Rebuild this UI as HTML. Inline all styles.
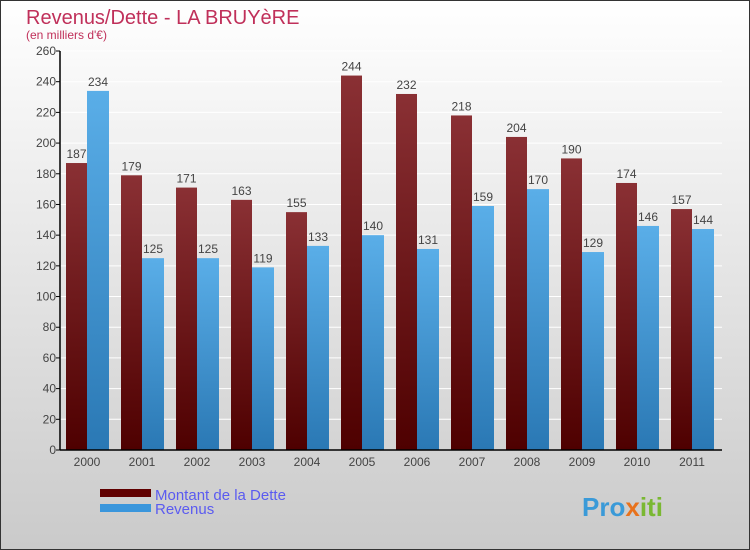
<!DOCTYPE html>
<html><head><meta charset="utf-8"><style>
body{margin:0}
#c{position:relative;width:750px;height:550px;overflow:hidden}
text{font-family:"Liberation Sans",sans-serif}
</style></head><body>
<div id="c">
<svg id="s" width="750" height="550" xmlns="http://www.w3.org/2000/svg">
<defs>
<linearGradient id="bg" x1="0" y1="0" x2="0" y2="1"><stop offset="0" stop-color="#ffffff"/><stop offset="1" stop-color="#cacaca"/></linearGradient>
<linearGradient id="gr" x1="0" y1="0" x2="0" y2="1"><stop offset="0" stop-color="#8a3034"/><stop offset="1" stop-color="#4e0000"/></linearGradient>
<linearGradient id="gb" x1="0" y1="0" x2="0" y2="1"><stop offset="0" stop-color="#5aaee8"/><stop offset="1" stop-color="#2a78b4"/></linearGradient>
</defs>
<rect x="0.5" y="0.5" width="749" height="549" fill="url(#bg)" stroke="#333"/>
<text x="26" y="24" font-size="20" fill="#c0305a">Revenus/Dette - LA BRUYèRE</text>
<text x="26" y="39" font-size="12" fill="#c0305a">(en milliers d'€)</text>
<g id="grid"></g><g id="bars"></g><g id="axes"></g>
<rect x="100" y="489" width="51" height="8" fill="#600000"/>
<rect x="100" y="504" width="51" height="8" fill="#3a96dc"/>
<text x="155" y="500" font-size="15" fill="#5b5bf0">Montant de la Dette</text>
<text x="155" y="514" font-size="15" fill="#5b5bf0">Revenus</text>
<text x="582" y="516" font-size="26" font-weight="bold" fill="#3a9ad8">Pro<tspan fill="#e8721c">x</tspan><tspan fill="#7ab832">iti</tspan></text>
</svg></div>
<script>
const years=["2000","2001","2002","2003","2004","2005","2006","2007","2008","2009","2010","2011"];
const dette=[187,179,171,163,155,244,232,218,204,190,174,157];
const revenus=[234,125,125,119,133,140,131,159,170,129,146,144];
const yTicks=[0,20,40,60,80,100,120,140,160,180,200,220,240,260];
const NS="http://www.w3.org/2000/svg";
const x0=60,x1=722,yB=450,yT=51,yMax=260;
const y=v=>yB-(v/yMax)*(yB-yT);
const gx=i=>87+i*55;
function mk(t,a,p){const e=document.createElementNS(NS,t);for(const k in a)e.setAttribute(k,a[k]);document.getElementById(p).appendChild(e);return e;}
yTicks.forEach(v=>{
 const l=mk('line',{x1:x0,x2:x1,y1:y(v),y2:y(v),stroke:'#fff','stroke-width':1},'grid');
 
 
 const tk=mk('line',{x1:x0-4,x2:x0,y1:y(v),y2:y(v),stroke:'#000'},'axes');
 
 
 const t=mk('text',{x:x0-4,y:y(v)+4,'font-size':12,fill:'#444','text-anchor':'end'},'axes');t.textContent=v;
 
 
});
years.forEach((yr,i)=>{
 const c=gx(i);
 const r=mk('rect',{x:c-21,y:y(dette[i]),width:21,height:yB-y(dette[i]),fill:'url(#gr)'},'bars');
 
 
 const b=mk('rect',{x:c,y:y(revenus[i]),width:22,height:yB-y(revenus[i]),fill:'url(#gb)'},'bars');
 
 
 const t1=mk('text',{x:c-10.5,y:y(dette[i])-5,'font-size':12,fill:'#444','text-anchor':'middle'},'bars');t1.textContent=dette[i];
 
 
 const t2=mk('text',{x:c+11,y:y(revenus[i])-5,'font-size':12,fill:'#444','text-anchor':'middle'},'bars');t2.textContent=revenus[i];
 
 
 const xl=mk('text',{x:c,y:466,'font-size':12,fill:'#444','text-anchor':'middle'},'axes');xl.textContent=yr;
 
 
});
const ya=mk('line',{x1:x0,x2:x0,y1:yT,y2:yB,stroke:'#000','stroke-width':1.5},'axes');


const xa=mk('line',{x1:x0,x2:x1,y1:yB,y2:yB,stroke:'#000','stroke-width':1.5},'axes');


</script>
</body></html>
